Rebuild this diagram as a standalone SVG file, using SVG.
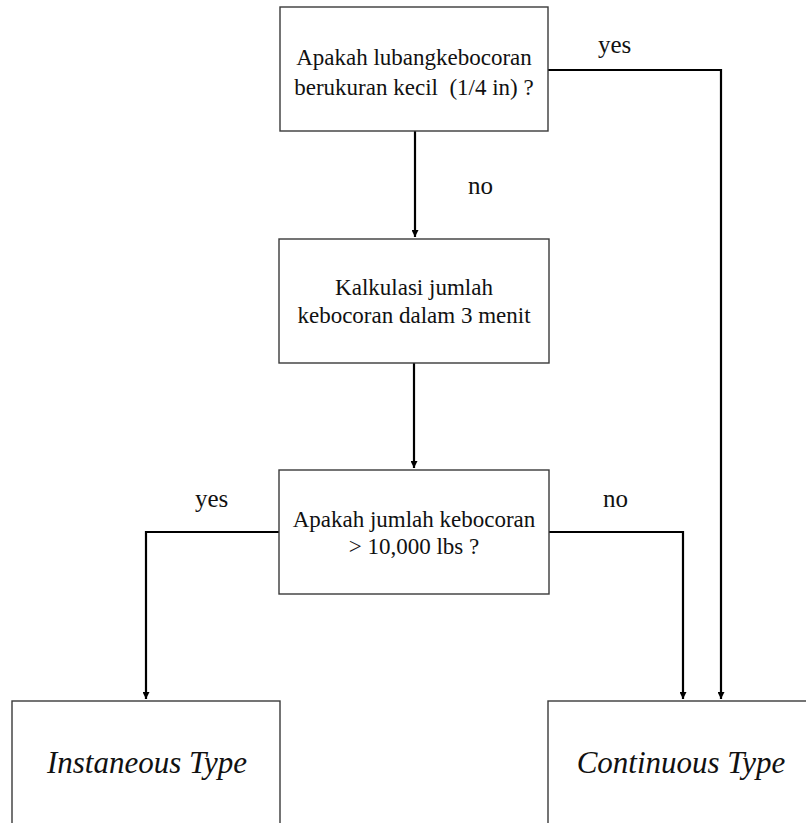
<svg xmlns="http://www.w3.org/2000/svg" width="806" height="823" viewBox="0 0 806 823">
  <style>
    .box { fill: #ffffff; stroke: #3a3a3a; stroke-width: 1.4; }
    text { font-family: 'Liberation Serif', 'Times New Roman', Times, 'DejaVu Serif', serif; fill: #111; }
    .txt { font-size: 23px; text-anchor: middle; }
    .lbl { font-size: 25px; }
    .big { font-size: 31px; font-style: italic; text-anchor: middle; }
    .wire { fill: none; stroke: #000; stroke-width: 2.2; }
  </style>
  <defs>
    <marker id="arrow" viewBox="0 0 10 10" refX="10" refY="5" markerWidth="7" markerHeight="7" markerUnits="userSpaceOnUse" orient="auto">
      <path d="M0,0 L10,5 L0,10 z" fill="#000"/>
    </marker>
  </defs>
  <rect width="806" height="823" fill="#ffffff"/>

  <g id="connectors">
    <!-- question 1: no -> calculation -->
    <path class="wire" d="M415,131 V237" marker-end="url(#arrow)"/>
    <!-- question 1: yes -> continuous -->
    <path class="wire" d="M548,70 H721 V699" marker-end="url(#arrow)"/>
    <!-- calculation -> question 2 -->
    <path class="wire" d="M414,363 V468" marker-end="url(#arrow)"/>
    <!-- question 2: yes -> instantaneous -->
    <path class="wire" d="M279,532 H146 V699" marker-end="url(#arrow)"/>
    <!-- question 2: no -> continuous -->
    <path class="wire" d="M549,532 H683 V699" marker-end="url(#arrow)"/>
  </g>

  <g id="labels">
    <text class="lbl" x="598" y="53" font-family="Liberation Serif">yes</text>
    <text class="lbl" x="468" y="194" font-family="Liberation Serif">no</text>
    <text class="lbl" x="195" y="507" font-family="Liberation Serif">yes</text>
    <text class="lbl" x="603" y="507" font-family="Liberation Serif">no</text>
  </g>

  <g id="q-hole-size">
    <rect class="box" x="280" y="7" width="268" height="124"/>
    <text class="txt" x="414" y="65">Apakah lubangkebocoran</text>
    <text class="txt" x="414" y="95" xml:space="preserve">berukuran kecil  (1/4 in) ?</text>
  </g>

  <g id="calc-leak">
    <rect class="box" x="279" y="239" width="270" height="124"/>
    <text class="txt" x="414" y="295">Kalkulasi jumlah</text>
    <text class="txt" x="414" y="323">kebocoran dalam 3 menit</text>
  </g>

  <g id="q-leak-amount">
    <rect class="box" x="279" y="470" width="270" height="124"/>
    <text class="txt" x="414" y="527">Apakah jumlah kebocoran</text>
    <text class="txt" x="414" y="554">&gt; 10,000 lbs ?</text>
  </g>

  <g id="instantaneous">
    <rect class="box" x="12" y="701" width="268" height="140"/>
    <text class="big" x="147" y="773">Instaneous Type</text>
  </g>

  <g id="continuous">
    <rect class="box" x="548" y="701" width="270" height="140"/>
    <text class="big" x="681" y="773">Continuous Type</text>
  </g>
</svg>
